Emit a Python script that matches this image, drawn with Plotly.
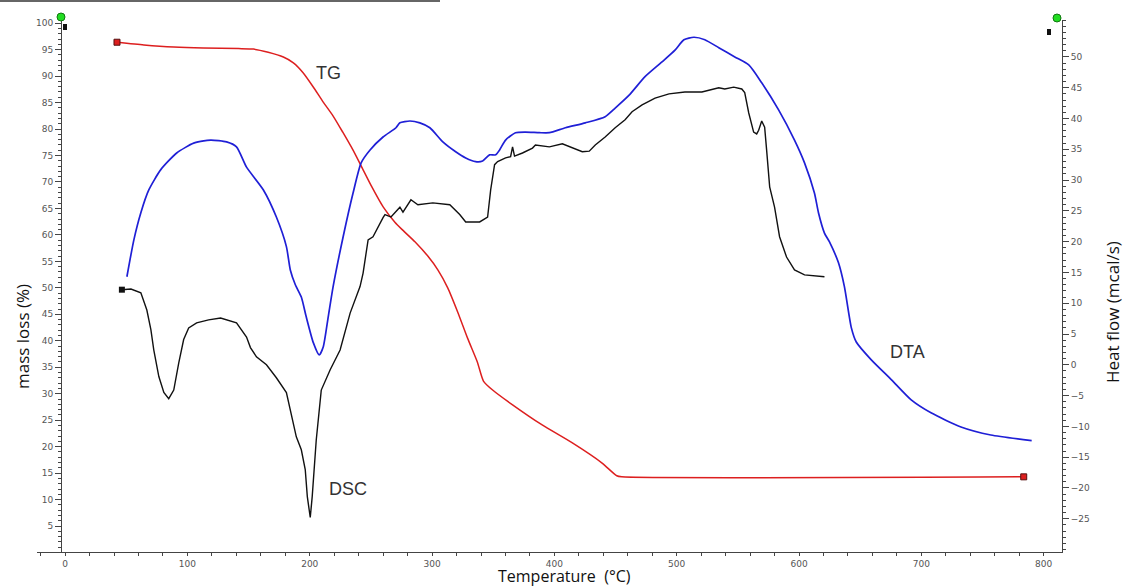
import plotly.graph_objects as go

# ---- TG (mass loss %, left axis) ----
tg_T = [42.4, 64.4, 88.8, 113, 141.8, 154, 166, 178.4, 186.6, 194.7, 203, 211, 219, 227, 235.4,
        243.6, 250, 260, 269.6, 276, 286, 296.5, 304.7, 312.8, 321, 329, 337, 342, 349.5, 365.8,
        390, 414.7, 439, 451, 455, 783.7]
tg_m = [96.4, 95.9, 95.5, 95.3, 95.2, 95.1, 94.5, 93.6, 92.5, 90.6, 87.9, 85.1, 82.5, 79.4, 76.0,
        72.3, 69.4, 65.3, 62.4, 60.9, 58.7, 56.0, 53.4, 50.0, 45.4, 40.5, 36.0, 32.4, 30.7, 27.9,
        24.1, 20.7, 16.9, 14.5, 14.3, 14.3]

# ---- DSC (heat flow mcal/s, right axis) ----
dsc_T = [46.4, 53.8, 61.9, 66.8, 70.1, 72.5, 76.6, 80.7, 84.7, 88.8, 92.9, 96.9, 101.0, 107.5, 117.3,
         127.1, 140.1, 148.3, 151.5, 156.4, 164.6, 172.7, 180.9, 184.9, 189.0, 193.1, 196.3, 198.0,
         200.4, 202.0, 205.3, 209.4, 216.7, 224.8, 233.0, 241.1, 243.6, 247.7, 251.7, 259.9, 261.5,
         266.4, 273.7, 276.2, 282.7, 288.4, 300.6, 314.5, 322.6, 327.5, 338.9, 345.4, 347.9, 351.1,
         353.6, 360.1, 364.2, 365.8, 367.4, 373.9, 382.1, 384.5, 395.9, 406.5, 414.7, 422.8, 428.5,
         433.4, 441.5, 449.7, 457.8, 463.5, 471.7, 482.3, 493.7, 506.7, 520.6, 534.4, 539.3, 546.6,
         553.2, 555.6, 558.9, 562.9, 565.4, 567.0, 569.5, 571.9, 573.5, 576.0, 580.0, 584.1, 589.8,
         596.3, 604.5, 612.6, 620.8]
dsc_h = [12.2, 12.3, 11.7, 8.9, 5.7, 2.4, -1.9, -4.5, -5.5, -4.1, 0.3, 4.1, 6.0, 6.8, 7.3,
         7.6, 6.8, 4.5, 2.8, 1.3, 0.0, -2.1, -4.5, -7.8, -11.7, -13.8, -17.0, -21.4,
         -24.8, -21.4, -12.2, -4.1, -0.8, 2.4, 8.4, 12.7, 14.9, 20.3, 20.8, 23.9, 24.4,
         24.0, 25.6, 24.8, 26.8, 26.0, 26.3, 26.0, 24.4, 23.2, 23.2, 24.0, 28.4, 32.5,
         33.0, 33.6, 33.8, 35.4, 33.9, 34.4, 35.2, 35.7, 35.4, 35.9, 35.2, 34.6, 34.7,
         35.7, 37.0, 38.5, 39.8, 41.1, 42.2, 43.3, 44.0, 44.3, 44.3, 45.0, 44.8, 45.1,
         44.8, 44.2, 40.9, 37.8, 37.5, 38.1, 39.6, 38.6, 34.9, 28.9, 25.6, 20.8, 17.5,
         15.4, 14.6, 14.4, 14.3]

# ---- DTA (right axis) ----
dta_T = [50.5, 56.2, 61.9, 68.4, 78.2, 91.2, 105.1, 118.9, 132.0, 140.1, 148.3, 162.1, 172.7, 180.9,
         184.1, 188.2, 193.1, 197.1, 202.9, 207.7, 211.0, 215.1, 219.1, 227.3, 235.4, 242.0, 249.3,
         259.9, 270.5, 273.7, 281.9, 290.0, 298.2, 308.8, 319.3, 327.5, 335.6, 341.3, 347.0, 351.9,
         355.2, 360.1, 368.2, 376.4, 387.8, 395.9, 409.0, 425.3, 441.5, 449.7, 461.1, 474.1, 488.0,
         498.6, 505.9, 514.1, 523.0, 534.4, 547.5, 558.9, 569.5, 583.3, 596.3, 604.5, 612.6, 615.9,
         620.8, 624.8, 632.2, 637.1, 642.8, 646.8, 659.1, 675.4, 691.7, 707.9, 732.4, 756.8, 790.2]
dta_h = [14.3, 20.3, 24.7, 28.4, 31.7, 34.4, 36.0, 36.5, 36.2, 35.4, 32.1, 28.4, 24.0, 19.2,
         15.4, 13.0, 11.0, 7.8, 3.6, 1.6, 2.9, 7.8, 12.7, 20.8, 27.9, 32.8, 34.9,
         37.0, 38.5, 39.3, 39.6, 39.3, 38.5, 36.2, 34.6, 33.6, 33.0, 33.1, 34.1, 34.1,
         34.9, 36.5, 37.7, 37.8, 37.7, 37.7, 38.5, 39.3, 40.3, 41.7, 43.8, 46.8, 49.2,
         51.1, 52.8, 53.2, 52.8, 51.5, 50.0, 48.7, 45.8, 41.4, 36.5, 32.8, 27.9, 24.7,
         21.4, 20.0, 16.6, 12.7, 6.0, 3.7, 0.8, -2.4, -5.7, -7.8, -10.1, -11.4, -12.3]

x_ticks = [0, 100, 200, 300, 400, 500, 600, 700, 800]
left_ticks = list(range(5, 101, 5))
right_ticks = list(range(-25, 51, 5))

RED = "#dd1f1f"
BLUE = "#1f1fd6"
BLACK = "#111111"
AX = "#444444"

fig = go.Figure()
fig.add_trace(go.Scatter(x=tg_T, y=tg_m, mode="lines", line=dict(color=RED, width=1.5, shape="spline", smoothing=0.6),
                         yaxis="y", showlegend=False))
fig.add_trace(go.Scatter(x=[tg_T[0], tg_T[-1]], y=[tg_m[0], tg_m[-1]], mode="markers",
                         marker=dict(symbol="square", size=6, color=RED, line=dict(color="#551111", width=1)),
                         yaxis="y", showlegend=False))
fig.add_trace(go.Scatter(x=dta_T, y=dta_h, mode="lines", line=dict(color=BLUE, width=1.7, shape="spline", smoothing=0.6),
                         yaxis="y2", showlegend=False))
fig.add_trace(go.Scatter(x=dsc_T, y=dsc_h, mode="lines", line=dict(color=BLACK, width=1.4),
                         yaxis="y2", showlegend=False))
fig.add_trace(go.Scatter(x=[dsc_T[0]], y=[dsc_h[0]], mode="markers",
                         marker=dict(symbol="square", size=6, color=BLACK),
                         yaxis="y2", showlegend=False))

L, R, T, B = 37, 61, 20, 34
W, H = 1123, 586
pw, ph = W - L - R, H - T - B

def px(x):
    return (x - L) / pw

def py(y):
    return (H - B - y) / ph

tickfont = dict(family="DejaVu Sans", size=9, color="#555555")
fig.update_layout(
    width=W, height=H, margin=dict(l=L, r=R, t=T, b=B),
    plot_bgcolor="white", paper_bgcolor="white",
    xaxis=dict(range=[-23, 815], domain=[0, 1], showgrid=False, zeroline=False,
               showline=True, linecolor=AX, linewidth=1,
               tickmode="array", tickvals=x_ticks, ticks="outside", ticklen=3, tickcolor=AX,
               minor=dict(tickmode="linear", tick0=0, dtick=20, ticks="outside", ticklen=3, tickcolor=AX),
               tickfont=tickfont),
    yaxis=dict(range=[0.1, 100.6], anchor="free", position=px(61), showgrid=False, zeroline=False,
               showline=True, linecolor=AX, linewidth=1,
               tickmode="array", tickvals=left_ticks, ticks="outside", ticklen=6, tickcolor=AX,
               minor=dict(tickmode="linear", tick0=0, dtick=1, ticks="outside", ticklen=3, tickcolor=AX),
               tickfont=tickfont),
    yaxis2=dict(range=[-30.4, 56.0], overlaying="y", side="right", anchor="x", showgrid=False,
                zeroline=False, showline=True, linecolor=AX, linewidth=1,
                tickmode="array", tickvals=right_ticks, ticks="outside", ticklen=6, tickcolor=AX,
                minor=dict(tickmode="linear", tick0=0, dtick=1, ticks="outside", ticklen=3, tickcolor=AX),
                tickfont=tickfont),
)

titlefont = dict(family="Open Sans", size=17, color="#111111")
fig.add_annotation(text="Temperature  (°C)", xref="paper", yref="paper", x=px(564), y=py(576),
                   showarrow=False, font=dict(family="Open Sans", size=16, color="#111111"),
                   xanchor="center", yanchor="middle")
fig.add_annotation(text="mass loss (%)", xref="paper", yref="paper", x=px(22), y=py(337),
                   showarrow=False, font=titlefont, textangle=-90, xanchor="center", yanchor="middle")
fig.add_annotation(text="Heat flow (mcal/s)", xref="paper", yref="paper", x=px(1112), y=py(312),
                   showarrow=False, font=titlefont, textangle=-90, xanchor="center", yanchor="middle")

labfont = dict(family="Liberation Sans", size=18, color="#333333")
fig.add_annotation(text="TG", x=215, y=90.6, xref="x", yref="y", showarrow=False, font=labfont)
fig.add_annotation(text="DSC", x=231.4, y=12.0, xref="x", yref="y", showarrow=False, font=labfont)
fig.add_annotation(text="DTA", x=689, y=37.9, xref="x", yref="y", showarrow=False, font=labfont)

# decorations: top border line, green end dots, black axis markers
fig.add_shape(type="line", xref="paper", yref="paper", x0=px(0), x1=px(440), y0=py(1), y1=py(1),
              line=dict(color="#333333", width=1.5))
for cx, cy in [(61, 17), (1057, 18)]:
    fig.add_shape(type="circle", xref="paper", yref="paper", x0=px(cx - 4), x1=px(cx + 4),
                  y0=py(cy + 4), y1=py(cy - 4), fillcolor="#22dd22", line=dict(color="#117711", width=1))
for cx, cy in [(65, 27), (1049, 32)]:
    fig.add_shape(type="rect", xref="paper", yref="paper", x0=px(cx - 2), x1=px(cx + 2),
                  y0=py(cy + 3), y1=py(cy - 3), fillcolor="#111111", line=dict(width=0))

fig.write_html("out.html", post_script="document.body.style.margin='0px';",
               config={"displayModeBar": False})
